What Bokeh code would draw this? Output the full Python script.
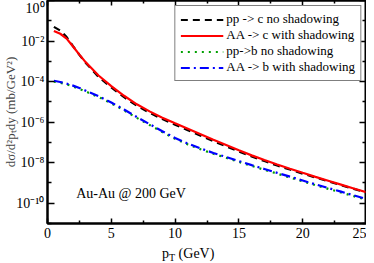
from bokeh.plotting import figure
from bokeh.layouts import column
from bokeh.models import (LogAxis, LinearAxis, FixedTicker, CustomJSTickFormatter,
                          Legend, LegendItem, Label, Range1d, Div)
from bokeh.embed import file_html
from bokeh.resources import INLINE

# transverse momentum grid (GeV)
pt = [0.5, 1, 1.5, 2, 2.5, 3, 4, 5, 6, 7, 8, 9, 10, 11, 12, 13, 14, 15,
      16, 17, 18, 19, 20, 21, 22, 23, 24, 25]

# pp -> c, no shadowing (mb/GeV^2)
pp_c = [5.01e-2, 3.31e-2, 1.58e-2, 5.62e-3, 2.09e-3, 8.32e-4, 1.70e-4, 5.13e-5,
        1.70e-5, 6.46e-6, 2.88e-6, 1.41e-6, 7.41e-7, 3.98e-7, 2.14e-7, 1.15e-7,
        6.46e-8, 3.55e-8, 2.04e-8, 1.20e-8, 7.24e-9, 4.57e-9, 2.88e-9, 1.86e-9,
        1.20e-9, 7.76e-10, 5.13e-10, 3.31e-10]

# AA -> c, with shadowing
aa_c = [3.16e-2, 2.29e-2, 1.32e-2, 5.37e-3, 2.14e-3, 8.91e-4, 2.00e-4, 6.03e-5,
        2.00e-5, 7.59e-6, 3.39e-6, 1.66e-6, 8.71e-7, 4.68e-7, 2.51e-7, 1.35e-7,
        7.41e-8, 4.07e-8, 2.29e-8, 1.35e-8, 8.13e-9, 5.01e-9, 3.16e-9, 2.00e-9,
        1.29e-9, 8.32e-10, 5.37e-10, 3.47e-10]

# pp -> b, no shadowing
pp_b = [1.00e-4, 8.71e-5, 7.24e-5, 5.75e-5, 4.37e-5, 3.24e-5, 1.74e-5, 8.51e-6,
        3.80e-6, 1.62e-6, 7.24e-7, 3.24e-7, 1.51e-7, 7.94e-8, 4.57e-8, 2.75e-8,
        1.74e-8, 1.10e-8, 6.92e-9, 4.47e-9, 2.88e-9, 1.86e-9, 1.20e-9, 7.76e-10,
        5.13e-10, 3.39e-10, 2.24e-10, 1.48e-10]

# AA -> b, with shadowing
aa_b = [1.10e-4, 9.55e-5, 7.94e-5, 6.31e-5, 4.79e-5, 3.55e-5, 1.91e-5, 9.33e-6,
        4.17e-6, 1.78e-6, 7.94e-7, 3.55e-7, 1.66e-7, 8.71e-8, 5.01e-8, 3.02e-8,
        1.91e-8, 1.20e-8, 7.59e-9, 4.90e-9, 3.16e-9, 2.04e-9, 1.32e-9, 8.51e-10,
        5.62e-10, 3.72e-10, 2.45e-10, 1.62e-10]

x_major = [0, 5, 10, 15, 20, 25]
x_minor = [2.5, 7.5, 12.5, 17.5, 22.5]
y_major = [1e0, 1e-2, 1e-4, 1e-6, 1e-8, 1e-10]
y_minor = [1e-1, 1e-3, 1e-5, 1e-7, 1e-9, 1e-11]

FONT = "Liberation Serif"

p = figure(width=366, height=244, y_axis_type="log",
           x_range=Range1d(0, 25), y_range=Range1d(1e-11, 1),
           output_backend="svg", toolbar_location=None,
           min_border_left=0, min_border_right=0, min_border_top=0,
           min_border_bottom=21)
p.background_fill_color = "white"
p.border_fill_color = "white"
p.outline_line_color = "black"
p.outline_line_width = 2
p.xgrid.visible = False
p.ygrid.visible = False

sup_fmt = CustomJSTickFormatter(code="""
const e = Math.round(Math.log10(tick));
const sup = {'0':'\u2070','1':'\u00b9','2':'\u00b2','3':'\u00b3','4':'\u2074',
             '5':'\u2075','6':'\u2076','7':'\u2077','8':'\u2078','9':'\u2079','-':'\u207b'};
return '10' + String(e).split('').map(c => sup[c]).join('');
""")
blank_fmt = CustomJSTickFormatter(code="return '';")


def style_axis(ax, maj_in, min_in):
    ax.axis_line_width = 2
    ax.major_tick_line_width = 1.5
    ax.minor_tick_line_width = 1.5
    ax.major_tick_in = maj_in
    ax.major_tick_out = 0
    ax.minor_tick_in = min_in
    ax.minor_tick_out = 0
    ax.major_label_text_font = FONT
    ax.major_label_text_font_size = "14px"
    ax.major_label_text_color = "black"
    ax.axis_label_text_font = FONT
    ax.axis_label_text_font_size = "13px"
    ax.axis_label_text_font_style = "normal"


# bottom axis (its title is the text block under the plot)
xa = p.xaxis[0]
xa.ticker = FixedTicker(ticks=x_major, minor_ticks=x_minor)
style_axis(xa, 5, 3)
xa.major_label_standoff = 4

# left axis
ya = p.yaxis[0]
ya.ticker = FixedTicker(ticks=y_major, minor_ticks=y_minor)
ya.formatter = sup_fmt
style_axis(ya, 7, 4)
ya.major_label_standoff = 3
ya.axis_label = "d\u03c3/d\u00b2p\u209cdy (mb/GeV\u00b2)"
ya.axis_label_standoff = -5

# top axis (ticks only)
ta = LinearAxis(ticker=FixedTicker(ticks=x_major, minor_ticks=x_minor),
                formatter=blank_fmt)
style_axis(ta, 5, 3)
ta.major_label_standoff = 0
p.add_layout(ta, "above")

# right axis (ticks only)
ra = LogAxis(ticker=FixedTicker(ticks=y_major, minor_ticks=y_minor),
             formatter=blank_fmt)
style_axis(ra, 7, 4)
ra.major_label_standoff = 0
p.add_layout(ra, "right")

r1 = p.line(pt, pp_c, line_color="black", line_width=2.2, line_dash="7 5")
r2 = p.line(pt, aa_c, line_color="#ff0000", line_width=2.2)
r3 = p.line(pt, pp_b, line_color="#00a000", line_width=2.2, line_dash="2 5")
r4 = p.line(pt, aa_b, line_color="#0000ff", line_width=2.2, line_dash="9 4 2 4")

legend = Legend(items=[
    LegendItem(label="pp -> c no shadowing", renderers=[r1]),
    LegendItem(label="AA -> c with shadowing", renderers=[r2]),
    LegendItem(label="pp->b no shadowing", renderers=[r3]),
    LegendItem(label="AA -> b with shadowing", renderers=[r4]),
], location="top_right")
legend.label_text_font = FONT
legend.label_text_font_size = "13px"
legend.label_text_line_height = 1.0
legend.label_text_color = "black"
legend.glyph_width = 43
legend.glyph_height = 13
legend.label_height = 13
legend.label_standoff = 3
legend.spacing = 0
legend.padding = 5
legend.margin = 5
legend.border_line_color = "black"
legend.border_line_width = 1.5
legend.background_fill_alpha = 1
p.add_layout(legend, "center")

p.add_layout(Label(x=2.25, y=3.0e-10, text="Au-Au @ 200 GeV",
                   text_font=FONT, text_font_size="14px",
                   text_baseline="middle", text_color="black"))

xtitle = Div(
    text=('<div style="font-family:\'Liberation Serif\';font-size:14px;'
          'line-height:14px;color:black;margin-top:3px;white-space:nowrap;">'
          'p<sub style="font-size:10px;vertical-align:-3px;line-height:0;">T</sub>'
          ' (GeV)</div>'),
    width=120, height=11, margin=(0, 0, 0, 162))

layout = column(p, xtitle, spacing=0)

open("out.html", "w").write(file_html(layout, INLINE))
